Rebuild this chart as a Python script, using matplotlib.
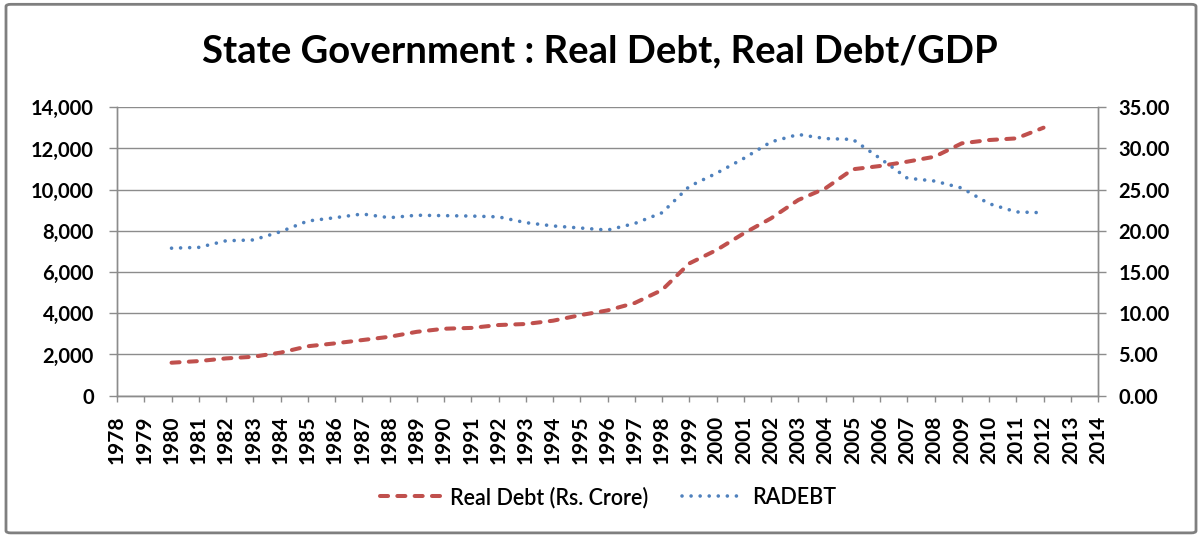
import matplotlib.pyplot as plt
from matplotlib.patches import FancyBboxPatch
from matplotlib.ticker import FuncFormatter, MultipleLocator

plt.rcParams['font.family'] = ['Lato', 'DejaVu Sans']

years = list(range(1978, 2015))
data_years = list(range(1980, 2013))

# Real Debt (Rs. Crore), left axis
real_debt = [1600, 1680, 1810, 1890, 2090, 2400, 2540, 2700, 2860, 3100,
             3250, 3290, 3430, 3480, 3640, 3910, 4140, 4500, 5130, 6420,
             7070, 7880, 8610, 9500, 10070, 10990, 11150, 11360, 11600, 12250,
             12410, 12490, 13010]

# RADEBT (Real Debt / GDP, %), right axis
radebt = [17.9, 18.0, 18.8, 18.9, 19.9, 21.2, 21.6, 22.05, 21.6, 21.9,
          21.85, 21.8, 21.7, 21.0, 20.6, 20.35, 20.1, 20.9, 22.2, 25.4,
          27.0, 28.8, 30.8, 31.7, 31.2, 31.1, 28.8, 26.4, 26.05, 25.2,
          23.3, 22.3, 22.2]

red = '#C0504D'
blue = '#4F81BD'
grid_col = '#8C8C8C'

fig = plt.figure(figsize=(11.99, 5.41), dpi=100)
fig.patch.set_facecolor('white')

# chart frame
frame = FancyBboxPatch((0.005, 0.015), 0.9925, 0.977, boxstyle='round,pad=0,rounding_size=0.004',
                       transform=fig.transFigure, facecolor='none', edgecolor='#7F7F7F',
                       linewidth=2.0, zorder=0)
fig.patches.append(frame)

ax = fig.add_axes([0.0976, 0.2686, 0.8182, 0.5331])
ax.patch.set_alpha(0)
ax2 = ax.twinx()

ln1, = ax.plot(data_years, real_debt, color=red, linewidth=2.9,
               linestyle=(0, (2.0, 2.3)), dash_capstyle='round', zorder=3)
ln2, = ax2.plot(data_years, radebt, color=blue, linewidth=2.6,
                linestyle=(0, (0.01, 2.5)), dash_capstyle='round', zorder=3)

ax.set_xlim(1978, 2014)
ax.set_ylim(0, 14000)
ax2.set_ylim(0, 35)
ax.yaxis.set_major_locator(MultipleLocator(2000))
ax2.yaxis.set_major_locator(MultipleLocator(5))
ax.yaxis.set_major_formatter(FuncFormatter(lambda v, p: f'{v:,.0f}'))
ax2.yaxis.set_major_formatter(FuncFormatter(lambda v, p: f'{v:.2f}'))

ax.set_xticks(years)
ax.set_xticklabels([str(y) for y in years], rotation=90)

ax.grid(axis='y', color=grid_col, linewidth=1.0)
ax.set_axisbelow(True)

for a in (ax, ax2):
    a.spines['top'].set_visible(False)
    for s in ('left', 'right', 'bottom'):
        a.spines[s].set_color(grid_col)
        a.spines[s].set_linewidth(1.0)
    a.tick_params(width=1.0, color=grid_col, labelcolor='black')
ax.tick_params(axis='y', length=5.6, pad=11, labelsize=14.5)
ax2.tick_params(axis='y', length=5.8, pad=9, labelsize=14.5)
ax.tick_params(axis='x', length=4.3, pad=10, labelsize=15)
for lab in ax.get_xticklabels() + ax.get_yticklabels() + ax2.get_yticklabels():
    lab.set_fontweight('bold')

fig.text(0.5, 0.905, 'State Government : Real Debt, Real Debt/GDP', ha='center', va='center',
         fontsize=27.5, fontweight='bold')

leg = fig.legend([ln1, ln2], ['Real Debt (Rs. Crore)', 'RADEBT'], loc='center',
                 bbox_to_anchor=(0.507, 0.081), ncol=2, frameon=False,
                 prop={'size': 15.5, 'weight': 'semibold'},
                 handlelength=2.9, handletextpad=0.35, columnspacing=1.6)

fig.savefig('out.png', dpi=100)
